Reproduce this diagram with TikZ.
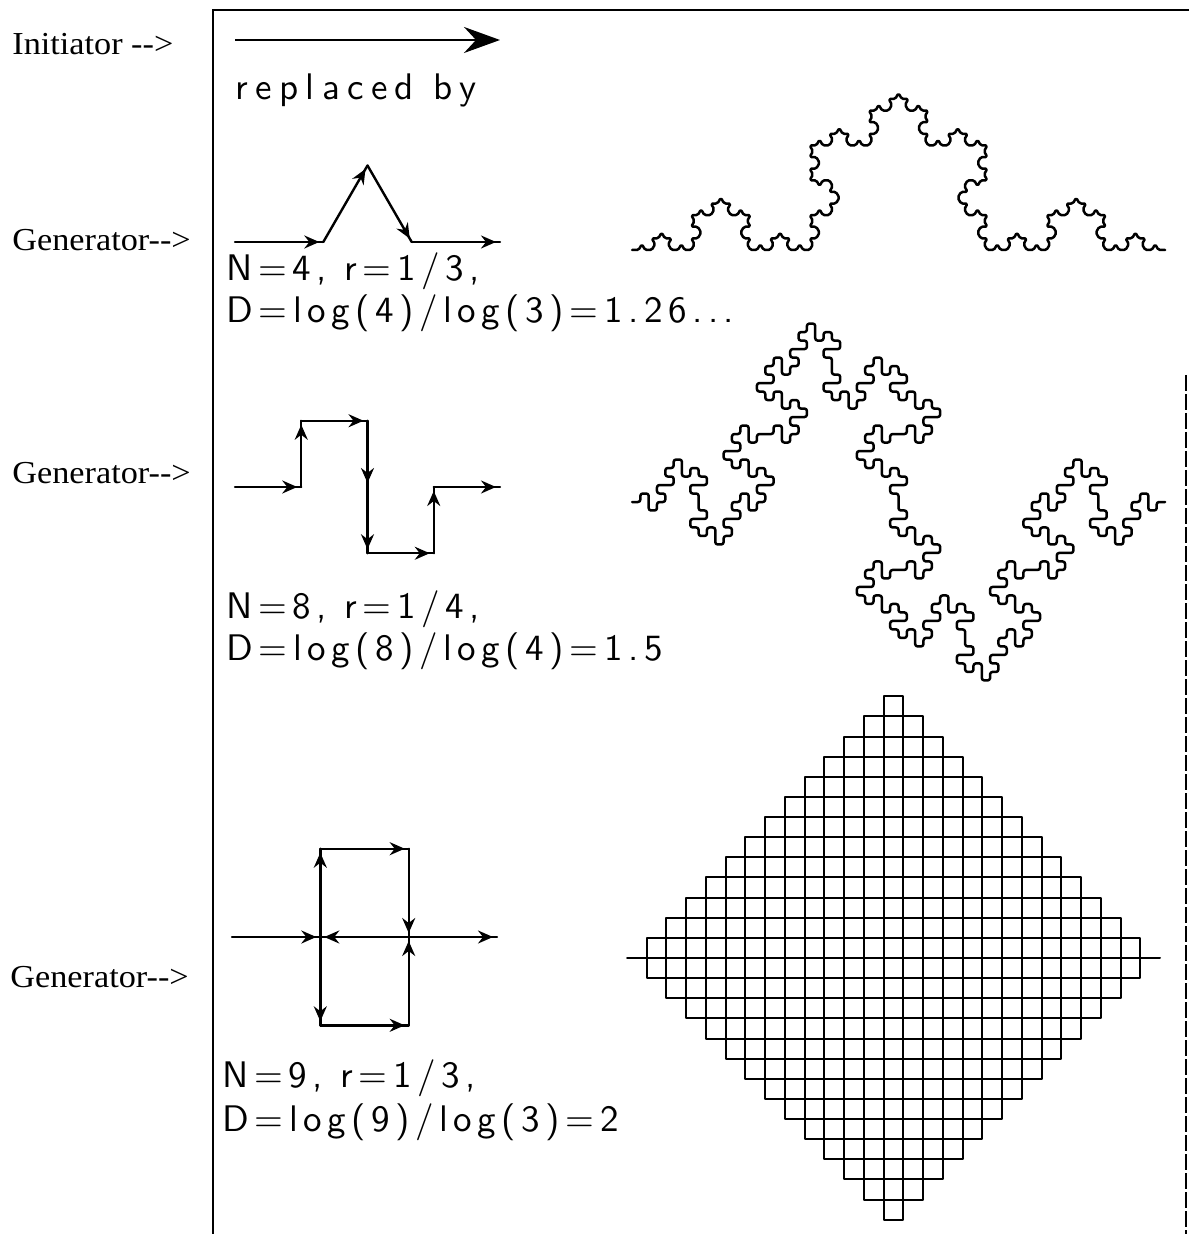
\documentclass[tikz,border=0pt]{standalone}
\usepackage{fontspec}
\setmainfont{Liberation Serif}
\newfontfamily\lblfont[FakeStretch=1.07]{Liberation Serif}
\newfontfamily\plotfam[LetterSpace=15]{lmsans10-regular.otf}
\newfontfamily\plotfamwide[LetterSpace=20]{lmsans10-regular.otf}
\usetikzlibrary{arrows.meta,decorations.markings,lindenmayersystems}
\pgfdeclarelindenmayersystem{KochCurve}{\rule{F -> F+F--F+F}}
\pgfdeclarelindenmayersystem{QuadKoch}{\rule{F -> F+F-F-FF+F+F-F}}
\pgfdeclarelindenmayersystem{PeanoCurve}{\rule{F -> F+F-F-F-F+F+F+F-F}}
\newcommand\plotfont{\plotfam\fontsize{18.5}{21}\selectfont}
\newcommand\plotfontwide{\plotfamwide\fontsize{18.5}{21}\selectfont}
\tikzset{
  frameline/.style={line width=1pt},
  sideline/.style={line width=0.6pt, dash pattern=on 8pt off 1.5pt},
  genline/.style={line width=1.2pt, line cap=round},
  tipmark/.style={postaction={decorate,decoration={markings,
      mark=at position -2pt with {\arrow{Stealth[length=7.5pt,width=6.5pt,inset=2.5pt]}}}}},
  initarrow/.style={line width=1.2pt, -{Stealth[length=18pt,width=13pt,inset=6pt]}},
  fractal/.style={line width=1.25pt, line join=round, line cap=round},
  lbl/.style={anchor=base west, inner sep=0pt, font=\lblfont\fontsize{16}{18}\selectfont},
  plottext/.style={anchor=base west, inner sep=0pt, font=\plotfont},
}
\begin{document}
\begin{tikzpicture}[x=0.5pt,y=-0.5pt]
\useasboundingbox (0,0) rectangle (1189,1234);
% frame
\coordinate (fr1) at (1189,10);
\coordinate (fr2) at (213,10);
\coordinate (fr3) at (213,1234);
\draw[frameline] (fr1) -- (fr2) -- (fr3);
\coordinate (sd1) at (1186,375);
\coordinate (sd2) at (1186,1234);
\draw[sideline] (sd1) -- (sd2);
% left labels
\node[lbl] (lab0) at (12,55) {Initiator -\kern0pt-\kern0pt>};
\node[lbl] (lab1) at (12,251) {Generator-\kern0pt-\kern0pt>};
\node[lbl] (lab2) at (12,483) {Generator-\kern0pt-\kern0pt>};
\node[lbl] (lab3) at (10,987) {Generator-\kern0pt-\kern0pt>};
% initiator
\coordinate (i0) at (235,40);
\coordinate (i1) at (500,40);
\draw[initarrow] (i0) -- (i1);
\node[plottext, font=\plotfontwide] (rep) at (235,100) {replaced by};
% Koch generator
\coordinate (k0) at (235,242);
\coordinate (k1) at (323.3,242);
\coordinate (k2) at (367.5,165.5);
\coordinate (k3) at (411.7,242);
\coordinate (k4) at (500,242);
\draw[genline,tipmark] (k0) -- (k1);
\draw[genline,tipmark] (k1) -- (k2);
\draw[genline,tipmark] (k2) -- (k3);
\draw[genline,tipmark] (k3) -- (k4);
\node[plottext] (t1a) at (226,281) {N=4, r=1/3,};
\node[plottext] (t1b) at (226,323) {D=log(4)/log(3)=1.26...};
% Koch curve
\begin{scope}[shift={(632,250)}, yscale=1.02]
\draw[fractal, rounded corners=0.8pt, l-system={KochCurve, axiom=F, order=4, step=3.2901pt, angle=60}] lindenmayer system;
\end{scope}
% quadratic Koch generator
\coordinate (q0) at (235,487);
\coordinate (q1) at (301.25,487);
\coordinate (q2) at (301.25,420.75);
\coordinate (q3) at (367.5,420.75);
\coordinate (q4) at (367.5,487);
\coordinate (q5) at (367.5,553.25);
\coordinate (q6) at (433.75,553.25);
\coordinate (q7) at (433.75,487);
\coordinate (q8) at (500,487);
\foreach \a/\b in {q0/q1,q1/q2,q2/q3,q3/q4,q4/q5,q5/q6,q6/q7,q7/q8}
  \draw[genline,tipmark] (\a) -- (\b);
\node[plottext] (t2a) at (226,618) {N=8, r=1/4,};
\node[plottext] (t2b) at (226,660) {D=log(8)/log(4)=1.5};
% quadratic Koch curve
\begin{scope}[shift={(632,502)}, yscale=1.02]
\draw[fractal, rounded corners=1.2pt, l-system={QuadKoch, axiom=F, order=3, step=4.164pt, angle=90}] lindenmayer system;
\end{scope}
% Peano generator
\coordinate (p0) at (232,937);
\coordinate (p1) at (320.3,937);
\coordinate (p2) at (320.3,848.7);
\coordinate (p3) at (408.7,848.7);
\coordinate (p4) at (408.7,937);
\coordinate (p5) at (320.3,937);
\coordinate (p6) at (320.3,1025.3);
\coordinate (p7) at (408.7,1025.3);
\coordinate (p8) at (408.7,937);
\coordinate (p9) at (497,937);
\foreach \a/\b in {p0/p1,p1/p2,p2/p3,p3/p4,p4/p5,p5/p6,p6/p7,p7/p8,p8/p9}
  \draw[genline,tipmark] (\a) -- (\b);
\node[plottext] (t3a) at (222,1087) {N=9, r=1/3,};
\node[plottext] (t3b) at (222,1131) {D=log(9)/log(3)=2};
% Peano curve
\begin{scope}[shift={(627,958)}, yscale=1.02]
\draw[fractal, line width=1pt, l-system={PeanoCurve, axiom=F, order=3, step=9.870pt, angle=90}] lindenmayer system;
\end{scope}
\end{tikzpicture}
\end{document}
